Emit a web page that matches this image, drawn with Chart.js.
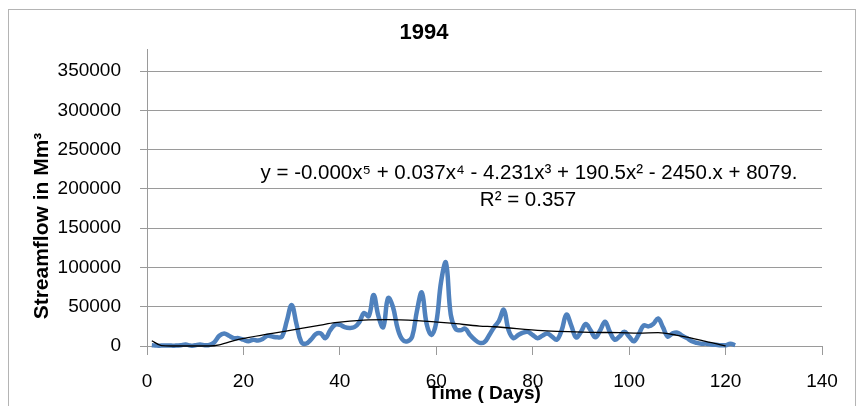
<!DOCTYPE html>
<html><head><meta charset="utf-8">
<script src="https://cdn.jsdelivr.net/npm/chart.js"></script>
<style>html,body{margin:0;padding:0;background:#fff}#wrap{width:862px;height:406px}</style>
</head><body><div id="wrap"><canvas id="c" width="862" height="406"></canvas></div>
<script>
const chartTitle = '1994';
const xTitle = 'Time ( Days)';
const yTitle = 'Streamflow in Mm³';
const equation = 'y = -0.000x⁵ + 0.037x⁴ - 4.231x³ + 190.5x² - 2450.x + 8079.';
const rSquared = 'R² = 0.357';

const days = [1,2,3,4,5,6,7,8,9,10,11,12,13,14,15,16,17,18,19,20,21,22,23,24,25,26,27,28,29,30,
  31,32,33,34,35,36,37,38,39,40,41,42,43,44,45,46,47,48,49,50,51,52,53,54,55,56,57,58,59,60,
  61,62,63,64,65,66,67,68,69,70,71,72,73,74,75,76,77,78,79,80,81,82,83,84,85,86,87,88,89,90,
  91,92,93,94,95,96,97,98,99,100,101,102,103,104,105,106,107,108,109,110,111,112,113,114,115,116,117,118,119,120,121,122];
const flow = [1000,500,500,500,500,500,1000,2000,500,1000,2000,1000,1500,5000,13000,16000,13000,10000,10000,8000,
  6000,8000,7000,9000,13000,12000,11000,12000,32000,52000,28000,5000,3000,8000,15000,16000,10000,20000,27000,27000,
  24000,23000,24000,30000,42000,38000,65000,38000,24000,61000,50000,22000,8000,6000,12000,45000,68000,28000,14000,30000,
  82000,106000,40000,22000,20000,22000,14000,8000,4000,5000,14000,24000,32000,46000,20000,10000,14000,17000,18000,14000,
  10000,13000,16000,12000,8000,20000,40000,26000,11000,18000,28000,20000,11000,20000,31000,18000,8000,12000,18000,12000,
  6000,15000,26000,25000,28000,35000,24000,12000,16000,17000,13000,10000,6000,4000,3000,3000,2000,1500,1000,1000,3000,1000];

const trendDays = [1,3,5,13,15,19,26,32,36,39,45,50,56,63,69,72,82,92,98,102,106,110,115,119,120];
const trendValues = [6700,500,0,0,1500,8500,16000,22500,26700,29700,33000,33500,32200,29000,25400,24500,19500,17400,17000,16500,17000,13500,7300,1300,0];

const xTicks = [0,20,40,60,80,100,120,140];
const yTicks = [0,50000,100000,150000,200000,250000,300000,350000];

const FONT = 'Liberation Sans';

const deco = {
  id: 'deco',
  beforeDraw(chart) {
    const ctx = chart.ctx;
    ctx.save();
    ctx.fillStyle = '#fff';
    ctx.fillRect(0, 0, chart.width, chart.height);
    ctx.strokeStyle = '#b4b4b4';
    ctx.lineWidth = 1;
    ctx.strokeRect(8.5, 9.5, 847, 420);
    ctx.restore();
  },
  afterDraw(chart) {
    const ctx = chart.ctx;
    const a = chart.chartArea;
    ctx.save();
    ctx.fillStyle = '#000';
    ctx.textAlign = 'center';
    ctx.textBaseline = 'middle';
    ctx.font = 'bold 22px ' + FONT;
    ctx.fillText(chartTitle, 424, 33);
    ctx.font = 'bold 19px ' + FONT;
    ctx.fillText(xTitle, (a.left + a.right) / 2, 394);
    ctx.font = '20.5px ' + FONT;
    ctx.fillText(equation, 529, 173);
    ctx.fillText(rSquared, 528, 200);
    ctx.translate(42, 226);
    ctx.rotate(-Math.PI / 2);
    ctx.font = 'bold 21px ' + FONT;
    ctx.fillText(yTitle, 0, 0);
    ctx.restore();
  }
};

new Chart(document.getElementById('c'), {
  type: 'line',
  data: {
    datasets: [
      {
        data: days.map((d, i) => ({ x: d, y: flow[i] })),
        borderColor: '#4f81bd',
        borderWidth: 4.5,
        pointRadius: 0,
        tension: 0.4,
        clip: false,
        order: 2
      },
      {
        data: trendDays.map((d, i) => ({ x: d, y: trendValues[i] })),
        borderColor: '#000',
        borderWidth: 1.3,
        pointRadius: 0,
        cubicInterpolationMode: 'monotone',
        clip: false,
        order: 1
      }
    ]
  },
  options: {
    responsive: false,
    animation: false,
    layout: { padding: { top: 49, right: 40, left: 0, bottom: 0 } },
    plugins: { legend: { display: false }, title: { display: false }, tooltip: { enabled: false } },
    scales: {
      x: {
        type: 'linear',
        min: 0, max: 140,
        afterBuildTicks: s => { s.ticks = xTicks.map(v => ({ value: v })); },
        afterFit: s => { s.height = 60; },
        ticks: { color: '#000', font: { family: FONT, size: 19 }, padding: 15, maxRotation: 0, callback: v => String(v) },
        grid: { display: true, drawOnChartArea: false, drawTicks: true, tickLength: 9, color: '#9a9a9a', lineWidth: 1 },
        border: { display: true, color: '#9a9a9a', width: 1 }
      },
      y: {
        min: 0, max: 378000,
        afterBuildTicks: s => { s.ticks = yTicks.map(v => ({ value: v })); },
        afterFit: s => { s.width = 147; },
        ticks: { color: '#000', font: { family: FONT, size: 19 }, padding: 19, callback: v => String(v) },
        grid: { color: '#9a9a9a', lineWidth: 1, drawTicks: true, tickLength: 7 },
        border: { display: true, color: '#9a9a9a', width: 1 }
      }
    }
  },
  plugins: [deco]
});
</script>
</body></html>
